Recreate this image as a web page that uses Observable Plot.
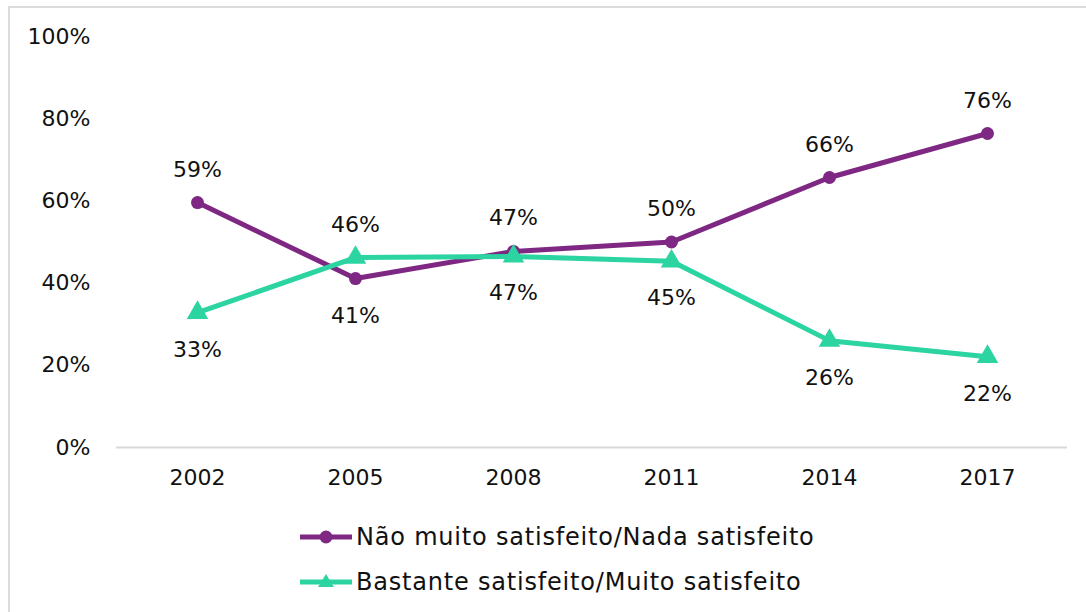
<!DOCTYPE html>
<html>
<head>
<meta charset="utf-8">
<script src="https://cdn.jsdelivr.net/npm/d3@7"></script>
<script src="https://cdn.jsdelivr.net/npm/@observablehq/plot@0.6"></script>
<style>
  body { margin: 0; background: #fff; width: 1086px; height: 612px; overflow: hidden; position: relative; font-family: "DejaVu Sans", sans-serif; }
  #frame { position: absolute; left: 8px; top: 6px; width: 1100px; height: 700px; border: 2px solid #dcdcdc; box-sizing: border-box; }
  #chart { position: absolute; left: 0; top: 0; }
  #legend { position: absolute; left: 300px; top: 514px; font-size: 24px; letter-spacing: 0.8px; color: #111; }
  .item { display: flex; align-items: center; height: 45px; }
  .item svg { margin-right: 4px; }
</style>
</head>
<body>
<div id="frame"></div>
<div id="chart"></div>
<div id="legend"></div>
<script>
const years = ["2002", "2005", "2008", "2011", "2014", "2017"];
const naoSatisfeito = [0.59, 0.41, 0.47, 0.50, 0.66, 0.76];
const satisfeito = [0.33, 0.46, 0.47, 0.45, 0.26, 0.22];
const seriesNames = ["Não muito satisfeito/Nada satisfeito", "Bastante satisfeito/Muito satisfeito"];
const colors = ["#7e2883", "#2bd4a0"];
const yTicks = [0, 0.2, 0.4, 0.6, 0.8, 1.0];

// exact-ish plotted positions (labels show rounded values)
const naoPlot = [0.596, 0.411, 0.477, 0.500, 0.657, 0.764];
const satPlot = [0.328, 0.462, 0.465, 0.453, 0.260, 0.221];

const rows = [];
years.forEach((yr, i) => {
  rows.push({year: yr, s: 0, v: naoPlot[i], label: naoSatisfeito[i], above: naoPlot[i] >= satPlot[i]});
  rows.push({year: yr, s: 1, v: satPlot[i], label: satisfeito[i], above: satPlot[i] > naoPlot[i]});
});
const s0 = rows.filter(d => d.s === 0), s1 = rows.filter(d => d.s === 1);
const fmt = d3.format(".0%");

const chart = Plot.plot({
  width: 1086,
  height: 510,
  marginLeft: 116,
  marginRight: 19,
  marginTop: 36,
  marginBottom: 63,
  style: {fontFamily: "DejaVu Sans, sans-serif", fontSize: "22px", color: "#111", background: "transparent"},
  x: {type: "point", domain: years, padding: 0.5, label: null},
  y: {domain: [0, 1], label: null},
  marks: [
    Plot.ruleY([0], {stroke: "#d9d9d9", strokeWidth: 2}),
    Plot.axisY({ticks: yTicks, tickFormat: fmt, tickSize: 0, tickPadding: 26, fontSize: 22, fill: "#111"}),
    Plot.axisX({tickSize: 0, tickPadding: 22, fontSize: 22, fill: "#111"}),
    Plot.line(s0, {x: "year", y: "v", stroke: colors[0], strokeWidth: 5}),
    Plot.dot(s0, {x: "year", y: "v", fill: colors[0], r: 6.5, symbol: "circle"}),
    Plot.line(s1, {x: "year", y: "v", stroke: colors[1], strokeWidth: 5}),
    Plot.dot(s1, {x: "year", y: "v", fill: colors[1], r: 8, symbol: "triangle"}),
    Plot.text(rows.filter(d => d.above), {x: "year", y: "v", text: d => fmt(d.label), dy: -33, fontSize: 22, fill: "#111"}),
    Plot.text(rows.filter(d => !d.above), {x: "year", y: "v", text: d => fmt(d.label), dy: 37, fontSize: 22, fill: "#111"})
  ]
});
document.getElementById("chart").appendChild(chart);

const legend = document.getElementById("legend");
seriesNames.forEach((name, i) => {
  const item = document.createElement("div");
  item.className = "item";
  const marker = i === 0
    ? `<circle cx="26" cy="12" r="6.5" fill="${colors[i]}"/>`
    : `<path d="M26,4 L34,17 L18,17 Z" fill="${colors[i]}"/>`;
  item.innerHTML = `<svg width="52" height="24"><line x1="0" x2="52" y1="12" y2="12" stroke="${colors[i]}" stroke-width="5"/>${marker}</svg><span>${name}</span>`;
  legend.appendChild(item);
});
</script>
</body>
</html>
